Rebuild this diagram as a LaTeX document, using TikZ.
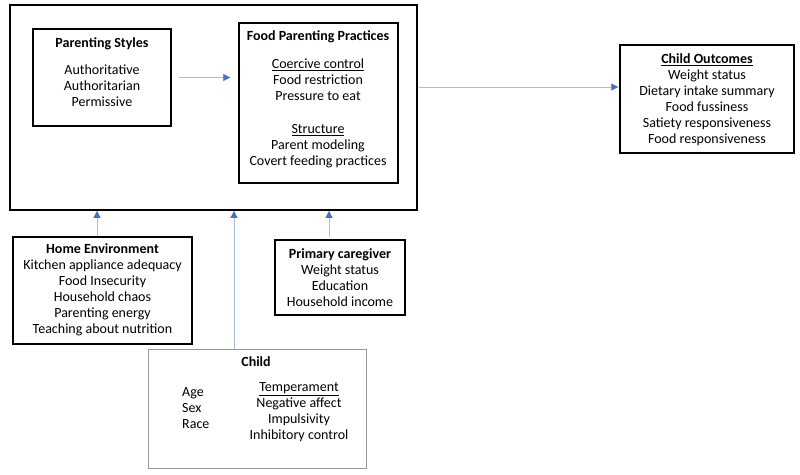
\documentclass[tikz,border=0pt]{standalone}
\usepackage{fontspec}
\setmainfont{Carlito}
\usetikzlibrary{arrows.meta}
\definecolor{arrline}{HTML}{A9BCD6}
\definecolor{arrhead}{HTML}{4472C4}
\tikzset{
  box/.style={draw=black, line width=1.4pt, inner sep=0pt},
  txt/.style={align=center, inner sep=0pt, font=\fontsize{14}{16}\selectfont},
  conn/.style={draw=arrline, line width=0.8pt, -{Triangle[length=7pt,width=7pt,color=arrhead]}},
}
\begin{document}
\begin{tikzpicture}[x=1pt,y=-1pt]
\useasboundingbox (0,0) rectangle (800,474);
\fill[white] (0,0) rectangle (800,474);
% boxes
\node[box, line width=1.8pt, minimum width=407pt, minimum height=205pt] (outer) at (213.5,107.5) {};
\node[box, minimum width=138pt, minimum height=97pt] (ps) at (102,77.5) {};
\node[box, minimum width=159pt, minimum height=160pt] (fpp) at (318.5,103) {};
\node[box, minimum width=174pt, minimum height=108pt] (co) at (707,99) {};
\node[box, minimum width=179pt, minimum height=107pt] (he) at (102.5,290.5) {};
\node[box, minimum width=130pt, minimum height=75pt] (pc) at (340,277.5) {};
\node[box, draw=gray!80, line width=1pt, minimum width=218pt, minimum height=119pt] (ch) at (257,408.5) {};
% texts
\node[txt] (pst) at (102,72.5) {\textbf{Parenting Styles}\\[11pt]Authoritative\\Authoritarian\\Permissive};
\node[txt] (fppt) at (318,99.5) {\textbf{Food Parenting Practices}\\[12pt]\underline{Coercive control}\\Food restriction\\Pressure to eat\\[17pt]\underline{Structure}\\Parent modeling\\Covert feeding practices};
\node[txt] (cot) at (707,99.5) {\textbf{\underline{Child Outcomes}}\\Weight status\\Dietary intake summary\\Food fussiness\\Satiety responsiveness\\Food responsiveness};
\node[txt] (het) at (102.5,290) {\textbf{Home Environment}\\Kitchen appliance adequacy\\Food Insecurity\\Household chaos\\Parenting energy\\Teaching about nutrition};
\node[txt] (pct) at (340,278) {\textbf{Primary caregiver}\\Weight status\\Education\\Household income};
\node[txt] (cht) at (256,362) {\textbf{Child}};
\node[txt, align=left, anchor=west] (chl) at (182,408) {Age\\Sex\\Race};
\node[txt] (chr) at (299,412) {\underline{Temperament}\\Negative affect\\Impulsivity\\Inhibitory control};
% connectors
\coordinate (ao) at (417,87);
\draw[conn, shorten <=7pt, shorten >=8pt] (ps.east) -- (ps.east -| fpp.west);
\draw[conn, shorten <=2pt, shorten >=1pt] (ao) -- (ao -| co.west);
\draw[conn] ([xshift=-5.5pt]he.north) -- ([xshift=-5.5pt]he.north |- outer.south);
\draw[conn, shorten <=2pt] ([xshift=-11pt]pc.north) -- ([xshift=-11pt]pc.north |- outer.south);
\draw[conn] ([xshift=-23pt]ch.north) -- ([xshift=-23pt]ch.north |- outer.south);
\end{tikzpicture}
\end{document}
